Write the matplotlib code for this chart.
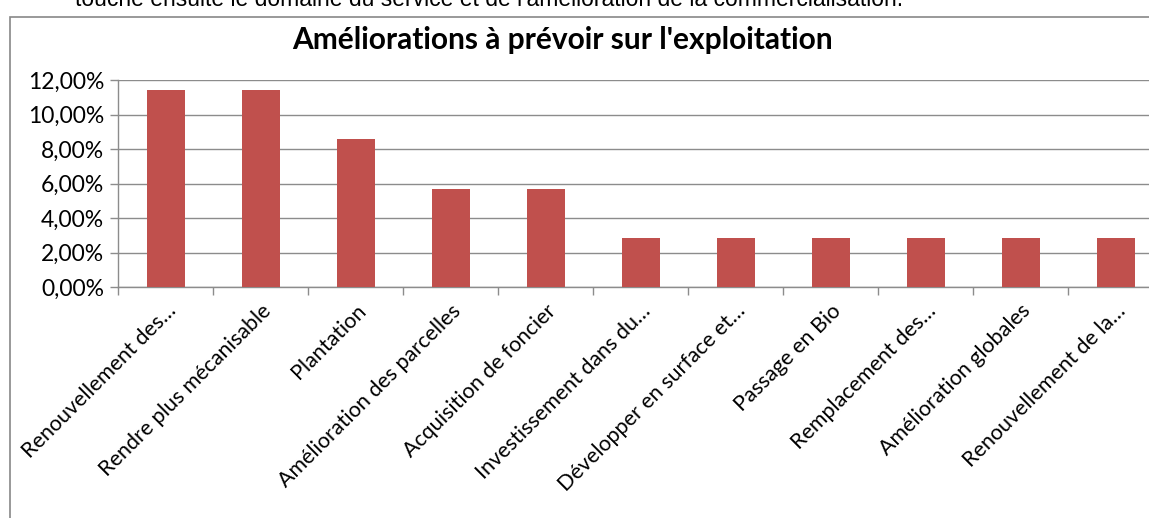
import numpy as np
import matplotlib
matplotlib.use("Agg")
import matplotlib.pyplot as plt
from matplotlib.ticker import FuncFormatter, FixedLocator
from matplotlib.patches import Rectangle

# Données
categories = [
    "Renouvellement des…",
    "Rendre plus mécanisable",
    "Plantation",
    "Amélioration des parcelles",
    "Acquisition de foncier",
    "Investissement dans du…",
    "Développer en surface et…",
    "Passage en Bio",
    "Remplacement des…",
    "Amélioration globales",
    "Renouvellement de la…",
]
valeurs = [11.43, 11.43, 8.57, 5.71, 5.71, 2.86, 2.86, 2.86, 2.86, 2.86, 2.86]
yticks = [0, 2, 4, 6, 8, 10, 12]

W, H = 1149, 518
fig = plt.figure(figsize=(W / 100, H / 100), dpi=100)
fig.patch.set_facecolor("white")

# texte coupé au-dessus du graphique
fig.text(75 / W, 1 - 6 / H,
         "touche ensuite le domaine du service et de l'amélioration de la commercialisation.",
         family="Liberation Sans", fontsize=16.5, color="black", va="baseline", ha="left")

# cadre du graphique
fig.patches.append(Rectangle((10 / W, -0.2), 1.2, 1.2 - 17 / H, transform=fig.transFigure,
                             fill=False, edgecolor="#878787", linewidth=1.2, zorder=0))

ax = fig.add_axes([118 / W, 1 - 287 / H, 1045 / W, 207 / H])
x = np.arange(len(categories))
ax.bar(x, valeurs, width=0.4, color="#C0504D", zorder=3)

ax.set_xlim(-0.5, len(categories) - 0.5)
ax.set_ylim(0, 12)
ax.set_yticks(yticks)
ax.yaxis.set_major_formatter(FuncFormatter(lambda v, p: f"{v:.2f}".replace(".", ",") + "%"))
ax.grid(axis="y", color="#8c8c8c", linewidth=1, zorder=0)

ax.set_xticks(x)
ax.set_xticklabels(categories, rotation=45, ha="right", rotation_mode="anchor",
                   family="Lato", fontsize=15.5)
ax.xaxis.set_minor_locator(FixedLocator(np.arange(-0.5, len(categories), 1)))
ax.tick_params(axis="x", which="major", length=0, pad=10)
ax.tick_params(axis="x", which="minor", length=6, color="#8c8c8c", width=1)
ax.tick_params(axis="y", length=6, color="#8c8c8c", width=1, pad=4, labelsize=16.5)
for lab in ax.get_yticklabels():
    lab.set_family("Lato")

for s in ["top", "right"]:
    ax.spines[s].set_visible(False)
for s in ["left", "bottom"]:
    ax.spines[s].set_color("#8c8c8c")
    ax.spines[s].set_linewidth(1)

fig.text(562 / W, 1 - 40 / H, "Améliorations à prévoir sur l'exploitation",
         family="Lato", fontweight="bold", fontsize=21.5, ha="center", va="center")

fig.savefig("out.png", dpi=100)
